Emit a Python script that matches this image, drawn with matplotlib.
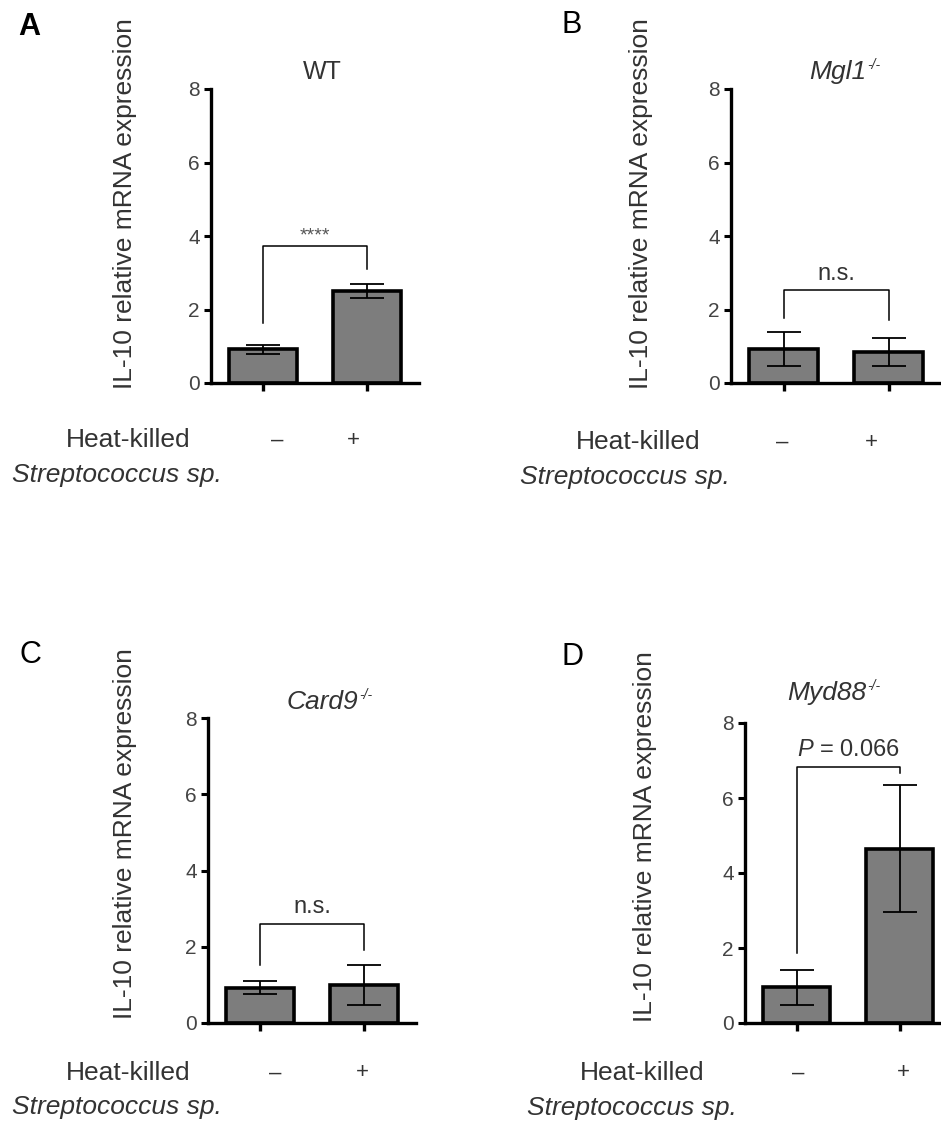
import matplotlib
matplotlib.use('Agg')
import matplotlib.pyplot as plt

plt.rcParams['font.family'] = ['Liberation Sans', 'DejaVu Sans']
plt.rcParams['mathtext.fontset'] = 'custom'
plt.rcParams['mathtext.it'] = 'Liberation Sans:italic'
plt.rcParams['mathtext.rm'] = 'Liberation Sans'

# data
groups = ['\u2013', '+']
titles = ['WT', 'Mgl1', 'Card9', 'Myd88']
title_sup = ['', '-/-', '-/-', '-/-']
letters = ['A', 'B', 'C', 'D']
means_A = [0.92, 2.50]
err_A = [0.12, 0.20]
means_B = [0.92, 0.85]
err_B = [0.46, 0.38]
means_C = [0.93, 1.00]
err_C = [0.18, 0.53]
means_D = [0.95, 4.65]
err_D = [0.46, 1.70]
bracket_y = [3.73, 2.53, 2.60, 6.83]
bracket_legs = [[1.63, 3.10], [1.76, 1.71], [1.52, 1.92], [1.87, 6.67]]
sig_labels = ['****', 'n.s.', 'n.s.', r'$\mathit{P}$ = 0.066']

W, H = 941, 1144
fig = plt.figure(figsize=(W / 100, H / 100), dpi=100)

# panel placement in pixels: (axis left, right, top(y=8), bottom(y=0))
boxes = [(211, 419, 89, 383), (731, 941, 89, 383),
         (208, 416, 718, 1023), (745, 951, 723, 1023)]
means = [means_A, means_B, means_C, means_D]
errs = [err_A, err_B, err_C, err_D]

txt = '#333333'
lab_font = 19

for i in range(4):
    l, r, t, b = boxes[i]
    ax = fig.add_axes([l / W, 1 - b / H, (r - l) / W, (b - t) / H])
    x = [0, 1]
    ax.bar(x, means[i], width=0.65, color='#7d7d7d', edgecolor='black',
           linewidth=2.6, zorder=2)
    ax.errorbar(x, means[i], yerr=errs[i], fmt='none', ecolor='black',
                elinewidth=1.3, capsize=12, capthick=1.3, zorder=3)
    # significance bracket
    y0 = bracket_y[i]
    ax.plot([0, 0, 1, 1], [bracket_legs[i][0], y0, y0, bracket_legs[i][1]],
            color='black', lw=1.1, zorder=3, clip_on=False)
    if sig_labels[i] == '****':
        ax.text(0.5, y0 + 0.05, sig_labels[i], ha='center', va='bottom',
                fontsize=14, color='#555555')
    else:
        ax.text(0.5, y0 + 0.15, sig_labels[i], ha='center', va='bottom',
                fontsize=17, color=txt)
    ax.set_xlim(-0.5, 1.5)
    ax.set_ylim(0, 8)
    ax.set_yticks([0, 2, 4, 6, 8])
    ax.set_xticks(x)
    ax.set_xticklabels(['', ''])
    for s in ['top', 'right']:
        ax.spines[s].set_visible(False)
    ax.spines['left'].set_linewidth(2.4)
    ax.spines['bottom'].set_linewidth(2.4)
    ax.tick_params(axis='y', length=5, width=2.2, labelsize=15, pad=3,
                   labelcolor='#444444')
    ax.tick_params(axis='x', length=6, width=2.4)

    # title over the panel
    ttl_y = [72, 72, 702, 693][i]
    if title_sup[i]:
        ttl_end = [0, 866, 358, 866][i]
        fig.text(ttl_end / W, 1 - ttl_y / H, titles[i], ha='right', va='center',
                 fontsize=19, style='italic', color=txt)
        fig.text((ttl_end + 1) / W, 1 - (ttl_y - 7) / H, title_sup[i], ha='left',
                 va='center', fontsize=10, style='italic', color=txt)
    else:
        fig.text(322 / W, 1 - ttl_y / H, titles[i], ha='center', va='center',
                 fontsize=18, color=txt)

    # y label
    yl_x = [125, 641, 125, 645][i]
    yl_y = [204, 204, 834, 837][i]
    fig.text(yl_x / W, 1 - yl_y / H, 'IL-10 relative mRNA expression',
             rotation=90, ha='center', va='center', fontsize=lab_font, color=txt)

    # panel letter
    let_x = [29, 572, 30, 572][i]
    let_y = [27, 25, 655, 657][i]
    fig.text(let_x / W, 1 - let_y / H, letters[i], ha='center', va='center',
             fontsize=22, fontweight='bold' if i == 0 else 'normal', color='black')

    # treatment row
    hk_r = [190, 700, 190, 705][i]
    hk_y = [440, 442, 1073, 1073][i]
    st_l = [12, 520, 12, 527][i]
    st_y = [475, 477, 1107, 1108][i]
    fig.text(hk_r / W, 1 - hk_y / H, 'Heat-killed', ha='right', va='center',
             fontsize=lab_font, color=txt)
    fig.text(st_l / W, 1 - st_y / H, 'Streptococcus sp.', ha='left', va='center',
             fontsize=lab_font, style='italic', color=txt)
    sign_x = [[277, 353], [782, 871], [275, 362], [798, 903]][i]
    for g, sx in zip(groups, sign_x):
        fig.text(sx / W, 1 - hk_y / H, g, ha='center', va='center',
                 fontsize=16, color=txt)

fig.savefig('out.png', dpi=100, facecolor='white')
